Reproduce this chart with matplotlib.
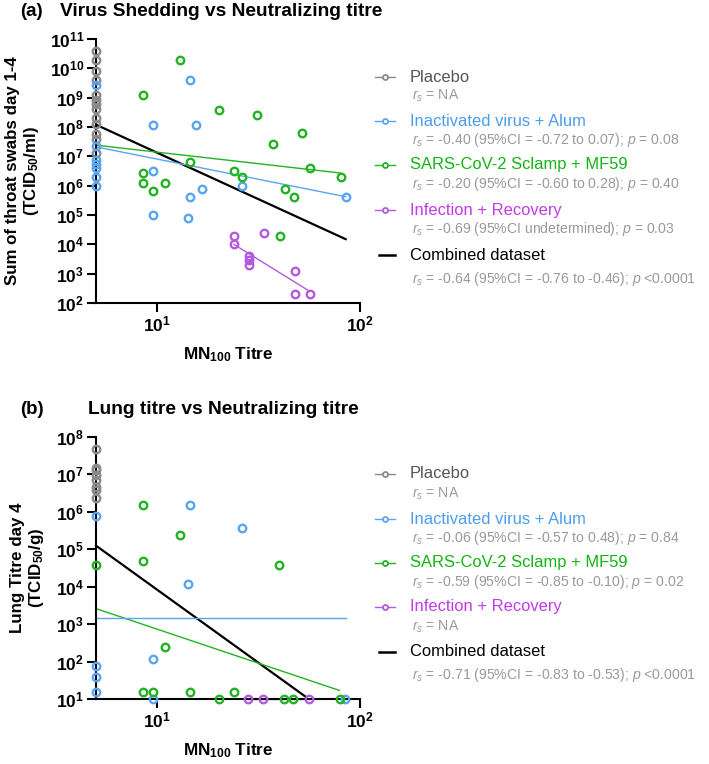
import math
import matplotlib
matplotlib.use("Agg")
import matplotlib.pyplot as plt
from matplotlib.lines import Line2D
from matplotlib.ticker import LogLocator, NullLocator, FuncFormatter


plt.rcParams["font.family"] = ["Liberation Sans", "DejaVu Sans"]
plt.rcParams["mathtext.fontset"] = "custom"
plt.rcParams["mathtext.rm"] = "Liberation Sans"
plt.rcParams["mathtext.bf"] = "Liberation Sans:bold"
plt.rcParams["mathtext.it"] = "Liberation Sans:italic"
plt.rcParams["mathtext.default"] = "bf"

W, H = 709, 764

# ---- Panel (a): virus shedding, throat swabs day 1-4 ----
a_placebo_x = [5] * 13
a_placebo_y = [4e10, 2e10, 8e9, 4e9, 1.2e9, 8.5e8, 6e8, 4e8, 2e8, 1.25e8, 6e7, 3.8e7, 1.25e7]
a_alum_x = [5, 5, 5, 5, 5, 5, 5, 14.5, 9.6, 15.5, 9.6, 26.3, 16.6, 14.5, 9.6, 14.2, 85]
a_alum_y = [2.6e9, 2.2e7, 7.5e6, 5.5e6, 3.9e6, 2e6, 1e6, 4e9, 1.2e8, 1.2e8, 3.1e6, 1e6,
            8e5, 4e5, 1e5, 8e4, 4e5]
a_sclamp_x = [13.0, 8.5, 20.3, 31, 52, 37.4, 14.5, 8.5, 8.5, 9.6, 10.9, 23.9, 26.3, 57,
              81, 42.8, 47.3, 40.4]
a_sclamp_y = [2e10, 1.2e9, 3.9e8, 2.5e8, 6.3e7, 2.6e7, 6.5e6, 2.6e6, 1.26e6, 6.4e5,
              1.26e6, 3.2e6, 2e6, 3.9e6, 2e6, 8e5, 4e5, 2e4]
a_recov_x = [23.9, 23.9, 28.3, 28.3, 28.3, 33.7, 47.6, 47.6, 56.5]
a_recov_y = [2e4, 1e4, 4e3, 3e3, 1.9e3, 2.5e4, 1.26e3, 2e2, 2e2]

# fitted lines (end points)
a_fit_all = ([5, 85], [1.2e8, 1.5e4])
a_fit_sclamp = ([5, 80], [2.4e7, 2.7e6])
a_fit_alum = ([5, 85], [2.1e7, 4.2e5])
a_fit_recov = ([23.9, 56.5], [1e4, 2.5e2])

a_stats = [
    r"$\mathit{r_s}$ = NA",
    r"$\mathit{r_s}$ = -0.40 (95%CI = -0.72 to 0.07); $\mathit{p}$ = 0.08",
    r"$\mathit{r_s}$ = -0.20 (95%CI = -0.60 to 0.28); $\mathit{p}$ = 0.40",
    r"$\mathit{r_s}$ = -0.69 (95%CI undetermined); $\mathit{p}$ = 0.03",
    r"$\mathit{r_s}$ = -0.64 (95%CI = -0.76 to -0.46); $\mathit{p}$ <0.0001",
]

# ---- Panel (b): lung titre day 4 ----
b_placebo_x = [5] * 8
b_placebo_y = [4.8e7, 1.5e7, 1.3e7, 9.5e6, 7.3e6, 4.7e6, 3.8e6, 2.4e6]
b_alum_x = [5, 5, 5, 5, 14.5, 26.2, 14.2, 9.6, 9.6, 84]
b_alum_y = [7.8e5, 78, 39, 15.5, 1.5e6, 3.8e5, 1.2e4, 120, 10, 10]
b_sclamp_x = [5, 8.5, 13.0, 8.5, 40, 10.9, 8.5, 9.6, 14.5, 23.9, 20.3, 42.4, 47, 80]
b_sclamp_y = [3.8e4, 1.5e6, 2.4e5, 4.9e4, 3.8e4, 250, 15.5, 15.5, 15.5, 15.5, 10, 10, 10, 10]
b_recov_x = [28.1, 33.4, 56.1]
b_recov_y = [10, 10, 10]

b_fit_all = ([5, 54.2], [1.25e5, 11.3])
b_fit_sclamp = ([5, 79], [2.6e3, 17])
b_fit_alum = ([5, 85], [1.45e3, 1.45e3])
b_fit_recov = ([28.1, 56.1], [10, 10])

b_stats = [
    r"$\mathit{r_s}$ = NA",
    r"$\mathit{r_s}$ = -0.06 (95%CI = -0.57 to 0.48); $\mathit{p}$ = 0.84",
    r"$\mathit{r_s}$ = -0.59 (95%CI = -0.85 to -0.10); $\mathit{p}$ = 0.02",
    r"$\mathit{r_s}$ = NA",
    r"$\mathit{r_s}$ = -0.71 (95%CI = -0.83 to -0.53); $\mathit{p}$ <0.0001",
]

group_names = ["Placebo", "Inactivated virus + Alum", "SARS-CoV-2 Sclamp + MF59",
               "Infection + Recovery", "Combined dataset"]
marker_colors = ["#8a8a8a", "#5aa5f2", "#22b322", "#b45ade", "black"]
text_colors = ["#555555", "#4c9cf0", "#13b313", "#c23be8", "black"]
fit_colors = ["black", "#22b322", "#5aa5f2", "#b45ade"]
stat_color = "#9a9a9a"


def px(x, y):
    # figure pixel -> figure fraction
    return x / W, 1 - y / H


def style_axis(ax, ylim, ylabel, ylabel_x):
    ax.set_xscale("log")
    ax.set_yscale("log")
    ax.set_xlim(5, 100)
    ax.set_ylim(*ylim)
    for side in ["top", "right"]:
        ax.spines[side].set_visible(False)
    for side in ["left", "bottom"]:
        ax.spines[side].set_linewidth(1.5)
    ax.xaxis.set_major_locator(LogLocator(base=10, numticks=10))
    ax.yaxis.set_major_locator(LogLocator(base=10, numticks=20))
    ax.xaxis.set_minor_locator(NullLocator())
    ax.yaxis.set_minor_locator(NullLocator())
    fmt = FuncFormatter(lambda v, pos: r"$10^{%d}$" % round(math.log10(v)))
    ax.xaxis.set_major_formatter(fmt)
    ax.yaxis.set_major_formatter(fmt)
    ax.tick_params(which="major", length=6.5, width=1.5, labelsize=12.5, pad=2)
    ax.set_xlabel("MN$_{100}$ Titre", fontsize=12.3, fontweight="bold")
    ax.xaxis.set_label_coords(0.5, -0.16)
    ax.set_ylabel(ylabel, fontsize=12.2, fontweight="bold", multialignment="center",
                  linespacing=1.1)
    ax.yaxis.set_label_coords(ylabel_x, 0.5)


def draw_panel(ax, groups, fits):
    fit_widths = [1.6, 1.0, 1.0, 1.0]
    for (xs, ys), c, lw in zip(fits, fit_colors, fit_widths):
        ax.plot(xs, ys, color=c, linewidth=lw, zorder=2, clip_on=False)
    for (xs, ys), c in zip(groups, marker_colors[:4]):
        ax.plot(xs, ys, "o", markersize=5.4, markerfacecolor="none",
                markeredgecolor=c, markeredgewidth=1.7, zorder=3, clip_on=False)


def draw_legend(fig, rows_y, stat_offsets, stats):
    for i, (name, y) in enumerate(zip(group_names, rows_y)):
        fx0, fy = px(375, y)
        fx1, _ = px(395, y)
        fxm, _ = px(385, y)
        if i < 4:
            fig.add_artist(Line2D([fx0, fx1], [fy, fy], color=marker_colors[i],
                                  linewidth=1.0, transform=fig.transFigure))
            fig.add_artist(Line2D([fxm], [fy], marker="o", markersize=3.6,
                                  markerfacecolor="white", markeredgecolor=marker_colors[i],
                                  markeredgewidth=1.3, transform=fig.transFigure))
        else:
            fxs, _ = px(379, y)
            fig.add_artist(Line2D([fxs, fx1], [fy, fy], color="black",
                                  linewidth=1.8, transform=fig.transFigure))
        tx, ty = px(410, y)
        fig.text(tx, ty, name, color=text_colors[i], fontsize=11.9, va="center", ha="left")
        sx, sy = px(412, y + stat_offsets[i])
        fig.text(sx, sy, stats[i], color=stat_color, fontsize=10.1, va="center", ha="left")


def main():
    fig = plt.figure(figsize=(W / 100, H / 100), dpi=100)

    ax_a = fig.add_axes([96 / W, 1 - 303 / H, 264 / W, 264 / H])
    ax_b = fig.add_axes([96 / W, 1 - 699 / H, 264 / W, 262 / H])

    draw_panel(ax_a,
               [(a_placebo_x, a_placebo_y), (a_alum_x, a_alum_y),
                (a_sclamp_x, a_sclamp_y), (a_recov_x, a_recov_y)],
               [a_fit_all, a_fit_sclamp, a_fit_alum, a_fit_recov])
    style_axis(ax_a, (1e2, 1e11), "Sum of throat swabs day 1-4\n(TCID$_{50}$/ml)", -0.21)

    draw_panel(ax_b,
               [(b_placebo_x, b_placebo_y), (b_alum_x, b_alum_y),
                (b_sclamp_x, b_sclamp_y), (b_recov_x, b_recov_y)],
               [b_fit_all, b_fit_sclamp, b_fit_alum, b_fit_recov])
    style_axis(ax_b, (1e1, 1e8), "Lung Titre day 4\n(TCID$_{50}$/g)", -0.19)

    # panel titles
    x, y = px(20, 11)
    fig.text(x, y, "(a)", fontsize=13.5, fontweight="bold", va="center")
    x, y = px(60, 11)
    fig.text(x, y, "Virus Shedding vs Neutralizing titre", fontsize=13.8,
             fontweight="bold", va="center")
    x, y = px(20, 410)
    fig.text(x, y, "(b)", fontsize=13.5, fontweight="bold", va="center")
    x, y = px(88, 410)
    fig.text(x, y, "Lung titre vs Neutralizing titre", fontsize=13.8,
             fontweight="bold", va="center")

    draw_legend(fig, [77, 121, 165, 210, 255], [19, 19, 19, 19, 24], a_stats)
    draw_legend(fig, [474, 519, 563, 607, 652], [20, 19, 19, 20, 23], b_stats)

    fig.savefig("out.png", dpi=100)


if __name__ == "__main__":
    main()
